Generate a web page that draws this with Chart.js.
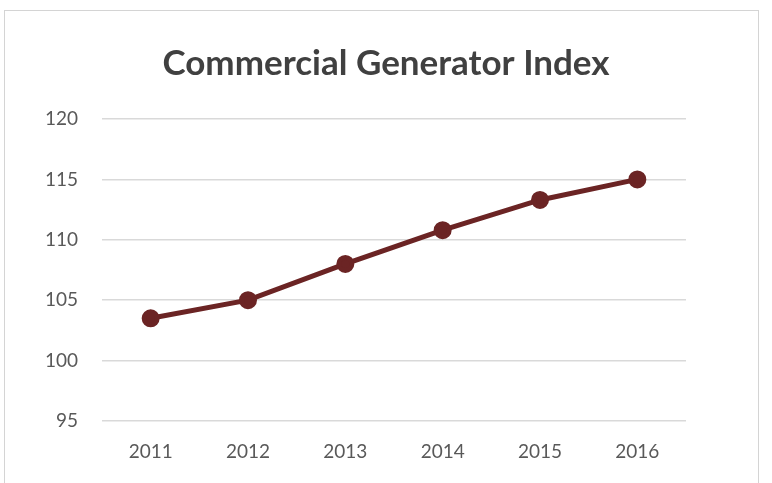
<!DOCTYPE html>
<html>
<head>
<meta charset="utf-8">
<script src="https://cdn.jsdelivr.net/npm/chart.js@4/dist/chart.umd.min.js"></script>
<style>
  html, body { margin: 0; padding: 0; background: #fff; }
  #wrap { position: relative; width: 772px; height: 483px; overflow: hidden; }
  #frame { position: absolute; left: 4px; top: 10px; width: 755px; height: 520px; border: 1px solid #d4d4d4; box-sizing: border-box; pointer-events: none; }
  canvas { position: absolute; left: 0; top: 0; }
</style>
</head>
<body>
<div id="wrap">
  <canvas id="c" width="772" height="483"></canvas>
  <div id="frame"></div>
</div>
<script>
const chartTitle = "Commercial Generator Index";
const categories = ["2011", "2012", "2013", "2014", "2015", "2016"];
const indexValues = [103.5, 105.0, 108.0, 110.8, 113.3, 115.0];
const yMin = 95, yMax = 120, yStep = 5;

new Chart(document.getElementById('c'), {
  type: 'line',
  data: {
    labels: categories,
    datasets: [{
      label: chartTitle,
      data: indexValues,
      borderColor: '#6B2424',
      backgroundColor: '#6B2424',
      borderWidth: 5,
      pointRadius: 6.5,
      pointHoverRadius: 6.5,
      pointBackgroundColor: '#6B2424',
      pointBorderColor: '#6B2424',
      tension: 0,
      yAxisID: 'y'
    }]
  },
  options: {
    responsive: false,
    animation: false,
    layout: { padding: { left: 0, right: 0, top: 0, bottom: 0 } },
    plugins: {
      legend: { display: false },
      tooltip: { enabled: false },
      title: {
        display: true,
        text: chartTitle,
        color: '#404040',
        font: { family: 'Lato', weight: 'bold', size: 35 },
        padding: { top: 43, bottom: 34 }
      }
    },
    scales: {
      x: {
        offset: true,
        grid: { display: false, drawTicks: false },
        border: { display: false },
        ticks: { color: '#595959', font: { family: 'Lato', size: 19 }, padding: 19 },
        afterFit: (s) => { s.height = 62; }
      },
      y: {
        position: 'left',
        min: yMin, max: yMax,
        ticks: { stepSize: yStep, color: '#595959', font: { family: 'Lato', size: 19 }, padding: 24 },
        grid: { color: '#d9d9d9', lineWidth: 1.5, drawTicks: false },
        border: { display: false },
        afterFit: (s) => { s.width = 102; }
      },
      yRight: {
        position: 'right',
        display: true,
        min: yMin, max: yMax,
        grid: { display: false, drawTicks: false },
        border: { display: false },
        ticks: { display: false },
        afterFit: (s) => { s.width = 86; }
      }
    }
  }
});
</script>
</body>
</html>
